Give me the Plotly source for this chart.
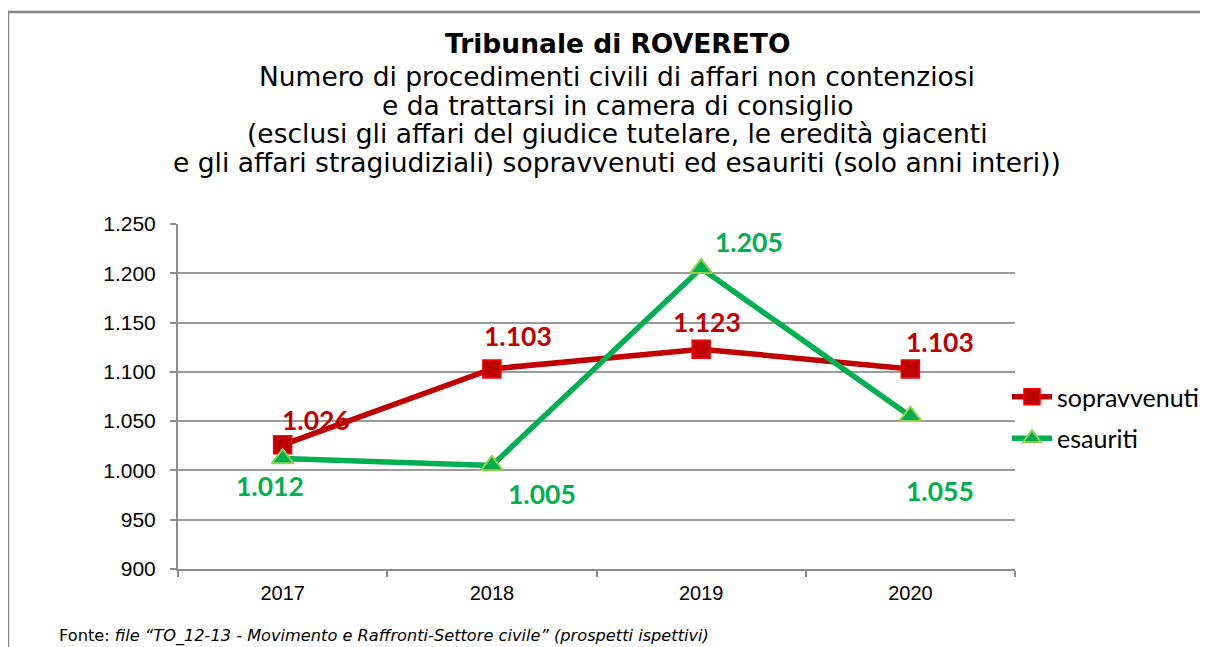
import plotly.graph_objects as go

years = ["2017", "2018", "2019", "2020"]
sopravvenuti = [1026, 1103, 1123, 1103]
esauriti = [1012, 1005, 1205, 1055]
label_sop = ["1.026", "1.103", "1.123", "1.103"]
label_esa = ["1.012", "1.005", "1.205", "1.055"]
y_ticks = [900, 950, 1000, 1050, 1100, 1150, 1200, 1250]
y_tick_text = ["900", "950", "1.000", "1.050", "1.100", "1.150", "1.200", "1.250"]

RED = "#C00000"
GREEN = "#00B050"

# reference-pixel -> paper helpers (plot area spans x 178..1015, y 224..569 in the reference)
def px(x):
    return (x - 178) / 837

def py(y):
    return (569 - y) / 345

fig = go.Figure()
fig.add_trace(go.Scatter(
    x=years, y=sopravvenuti, name="sopravvenuti", mode="lines+markers", legendgroup="a",
    line=dict(color=RED, width=5.5),
    marker=dict(symbol="square", size=18, color=RED, line=dict(color="#FF0000", width=1.5)),
))
fig.add_trace(go.Scatter(
    x=years, y=esauriti, name="esauriti", mode="lines+markers", legendgroup="b",
    line=dict(color=GREEN, width=5.5),
    marker=dict(symbol="triangle-up", size=19, color=GREEN, line=dict(color="#92D050", width=2)),
))

label_family = "Lato, 'Open Sans', sans-serif"
sop_shift = [(33, 25), (26, 33), (6, 27), (30, 27)]
esa_shift = [(-13, -27), (50, -28), (48, 26), (30, -75)]
for i in range(len(years)):
    fig.add_annotation(x=i, y=sopravvenuti[i], text="<b>%s</b>" % label_sop[i], showarrow=False,
                       xshift=sop_shift[i][0], yshift=sop_shift[i][1],
                       font=dict(family=label_family, size=26.5, color=RED))
    fig.add_annotation(x=i, y=esauriti[i], text="<b>%s</b>" % label_esa[i], showarrow=False,
                       xshift=esa_shift[i][0], yshift=esa_shift[i][1],
                       font=dict(family=label_family, size=26.5, color=GREEN))

title_font = dict(family="DejaVu Sans, Verdana, sans-serif", size=26.5, color="#000000")
title_lines = [
    ("<b>Tribunale di ROVERETO</b>", 44),
    ("Numero di procedimenti civili di affari non contenziosi", 76),
    ("e da trattarsi in camera di consiglio", 105),
    ("(esclusi gli affari del giudice tutelare, le eredità giacenti", 134),
    ("e gli affari stragiudiziali) sopravvenuti ed esauriti (solo anni interi))", 162),
]
for txt, ypix in title_lines:
    fig.add_annotation(xref="paper", yref="paper", x=px(617), y=py(ypix),
                       text=txt, showarrow=False, xanchor="center", yanchor="middle",
                       font=title_font)

fig.add_annotation(xref="paper", yref="paper", x=px(57), y=py(636),
                   text="Fonte: <i>file “TO_12-13 - Movimento e Raffronti-Settore civile” (prospetti ispettivi)</i>",
                   showarrow=False, xanchor="left", yanchor="middle",
                   font=dict(family="DejaVu Sans, Verdana, sans-serif", size=16.2, color="#000000"))

# outer frame
fig.add_shape(type="rect", xref="paper", yref="paper",
              x0=px(8), y0=py(700), x1=px(1260), y1=py(12),
              line=dict(color="#878787", width=2.5), fillcolor="rgba(0,0,0,0)", layer="below")

# the page body has an 8px margin, so the figure is drawn 8px smaller and everything is offset accordingly
fig.update_layout(
    width=1200, height=639,
    margin=dict(l=170, r=193, t=216, b=78, autoexpand=False),
    paper_bgcolor="white", plot_bgcolor="white",
    showlegend=True,
    legend=dict(x=px(1007), y=py(374), xanchor="left", yanchor="top",
                font=dict(family=label_family, size=25, color="#000000"),
                tracegroupgap=6, itemwidth=40, bgcolor="rgba(0,0,0,0)"),
    xaxis=dict(type="category", range=[-0.5, 3.5], showgrid=False,
               showline=True, linecolor="#8C8C8C", linewidth=2,
               ticks="outside", ticklen=6, tickcolor="#8C8C8C", tickwidth=2,
               tickson="boundaries", ticklabelstandoff=5, automargin=False,
               tickfont=dict(family="Liberation Sans, Arial, sans-serif", size=20, color="#000000"),
               fixedrange=True),
    yaxis=dict(range=[900, 1250], tickvals=y_ticks, ticktext=y_tick_text,
               showgrid=True, gridcolor="#9A9A9A", gridwidth=2,
               showline=True, linecolor="#8C8C8C", linewidth=2,
               ticks="outside", ticklen=6, tickcolor="#8C8C8C", tickwidth=2,
               ticklabelstandoff=10, automargin=False,
               tickfont=dict(family="Liberation Sans, Arial, sans-serif", size=21, color="#000000"),
               zeroline=False, fixedrange=True),
)

fig.write_html("out.html")
